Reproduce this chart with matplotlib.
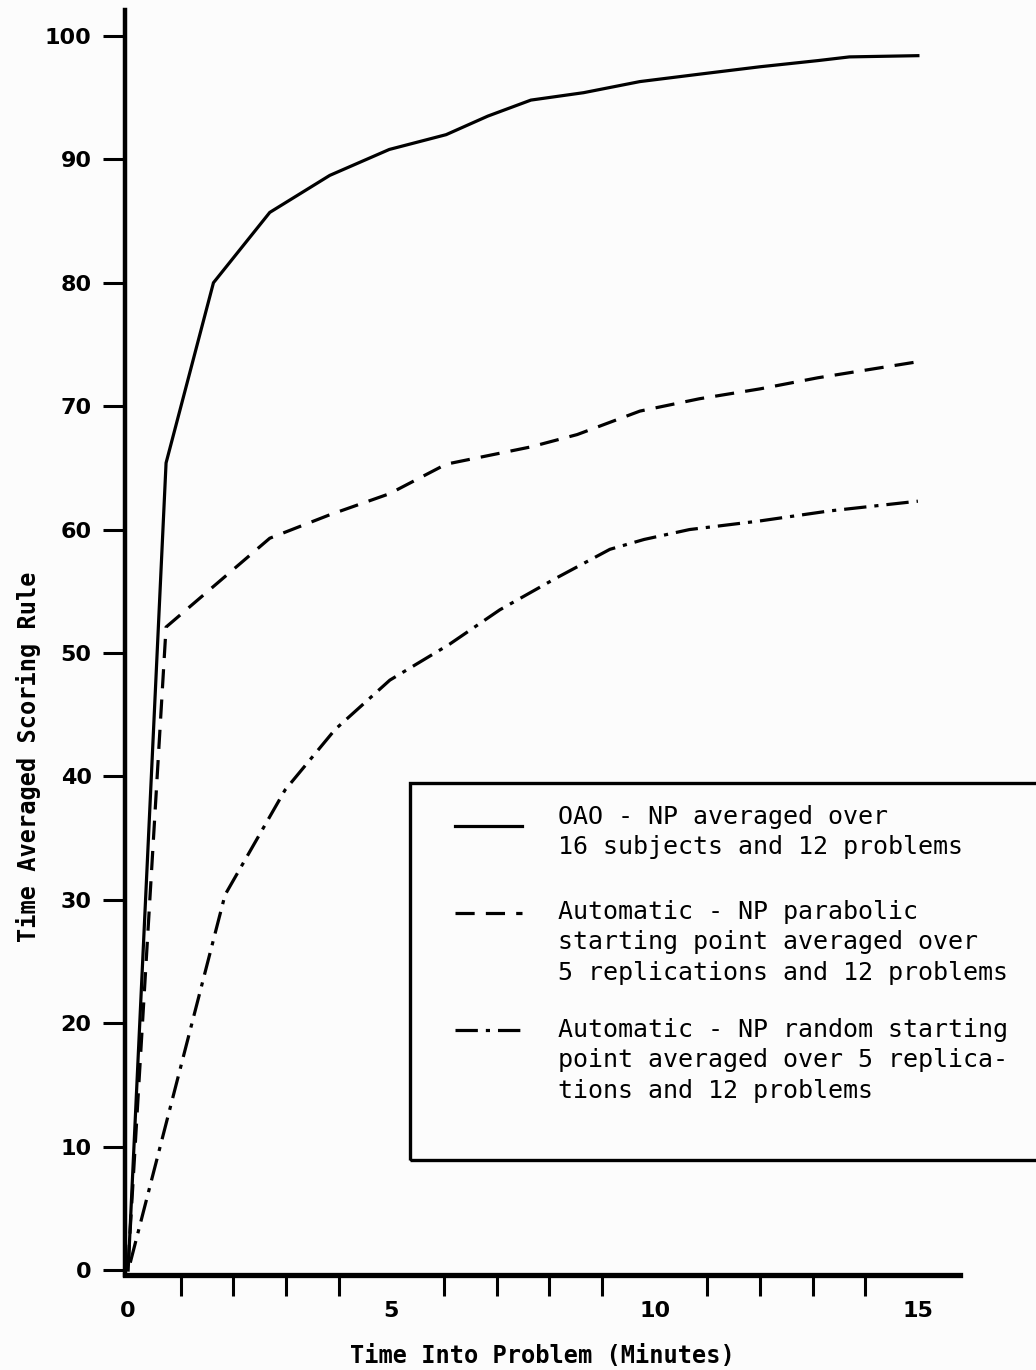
import numpy as np
import matplotlib
matplotlib.use('Agg')
import matplotlib.pyplot as plt
from matplotlib.lines import Line2D
from matplotlib.patches import Rectangle

# values (minutes, score)
t_oao = [0.0, 0.72, 1.62, 2.69, 3.83, 4.96, 6.04, 6.83, 7.65, 8.65, 9.72, 10.85, 12.0, 13.1, 13.7, 15.0]
s_oao = [0.0, 65.4, 80.0, 85.7, 88.7, 90.8, 92.0, 93.5, 94.8, 95.4, 96.3, 96.9, 97.5, 98.0, 98.3, 98.4]

t_para = [0.0, 0.72, 2.69, 3.83, 4.96, 6.04, 7.65, 8.53, 9.72, 10.85, 12.0, 13.1, 15.0]
s_para = [0.5, 52.1, 59.3, 61.2, 62.9, 65.3, 66.7, 67.7, 69.6, 70.6, 71.4, 72.3, 73.6]

t_rand = [0.04, 1.84, 2.98, 3.93, 4.97, 6.1, 7.06, 8.1, 9.15, 9.8, 10.66, 12.0, 13.3, 15.0]
s_rand = [0.6, 30.4, 38.9, 43.8, 47.8, 50.7, 53.5, 56.0, 58.4, 59.2, 60.0, 60.7, 61.5, 62.3]

legend_txt = ["OAO - NP averaged over\n16 subjects and 12 problems",
              "Automatic - NP parabolic\nstarting point averaged over\n5 replications and 12 problems",
              "Automatic - NP random starting\npoint averaged over 5 replica-\ntions and 12 problems"]

xticks_major = [0, 5, 10, 15]
xticks_minor = list(range(1, 16))
yticks = list(range(0, 101, 10))

W, H = 1036, 1370
fig = plt.figure(figsize=(W/100, H/100), dpi=100)
fig.patch.set_facecolor('#fcfcfc')

ax = fig.add_axes([125/W, 95/H, (960-125)/W, (1275-10)/H])
ax.set_facecolor('none')

lw = 2.3
dash = (0, (6, 3.5))
dashdot = (0, (7, 2.5, 1.3, 2.5))
ax.plot(t_oao, s_oao, color='black', lw=lw, solid_joinstyle='miter')
ax.plot(t_para, s_para, color='black', lw=lw, linestyle=dash)
ax.plot(t_rand, s_rand, color='black', lw=lw, linestyle=dashdot)

ax.set_xlim(-0.06, 15.8)
ax.set_ylim(-0.4, 102.1)

for s in ['top', 'right']:
    ax.spines[s].set_visible(False)
ax.spines['left'].set_linewidth(3.2)
ax.spines['bottom'].set_linewidth(3.8)

ax.set_xticks(xticks_major)
ax.set_xticks(xticks_minor, minor=True)
ax.set_yticks(yticks)
ax.tick_params(axis='y', direction='out', length=16, width=2.2, pad=8)
ax.tick_params(axis='x', which='major', length=0, pad=19)
ax.tick_params(axis='x', which='minor', direction='out', length=15, width=2.2)

tickfont = dict(family='DejaVu Sans', weight='bold', size=16)
ax.set_xticklabels([str(v) for v in xticks_major], **tickfont)
ax.set_yticklabels([str(v) for v in yticks], **tickfont)

labfont = dict(family='DejaVu Sans Mono', weight='bold', size=17)
ax.set_xlabel('Time Into Problem (Minutes)', labelpad=16, **labfont)
ax.set_ylabel('Time Averaged Scoring Rule', **labfont)
ax.yaxis.set_label_coords(-0.1, 0.41)

# legend box, runs off the right edge as in the scan
def fx(px):
    return px / W

def fy(py):
    return 1 - py / H

box = Rectangle((fx(410), fy(1160)), fx(1060) - fx(410), fy(783) - fy(1160),
                transform=fig.transFigure, fill=False, lw=2.4, ec='black', clip_on=False)
fig.add_artist(box)

styles = ['-', dash, dashdot]
line_y = [826, 913, 1030]
text_y = [805, 900, 1018]
for st, ly, ty, txt in zip(styles, line_y, text_y, legend_txt):
    fig.add_artist(Line2D([fx(455), fx(522)], [fy(ly), fy(ly)], transform=fig.transFigure,
                          color='black', lw=lw, linestyle=st))
    fig.text(fx(558), fy(ty), txt, ha='left', va='top', family='DejaVu Sans Mono',
             size=18, linespacing=1.33)

fig.savefig('out.png', dpi=100, facecolor=fig.get_facecolor())
